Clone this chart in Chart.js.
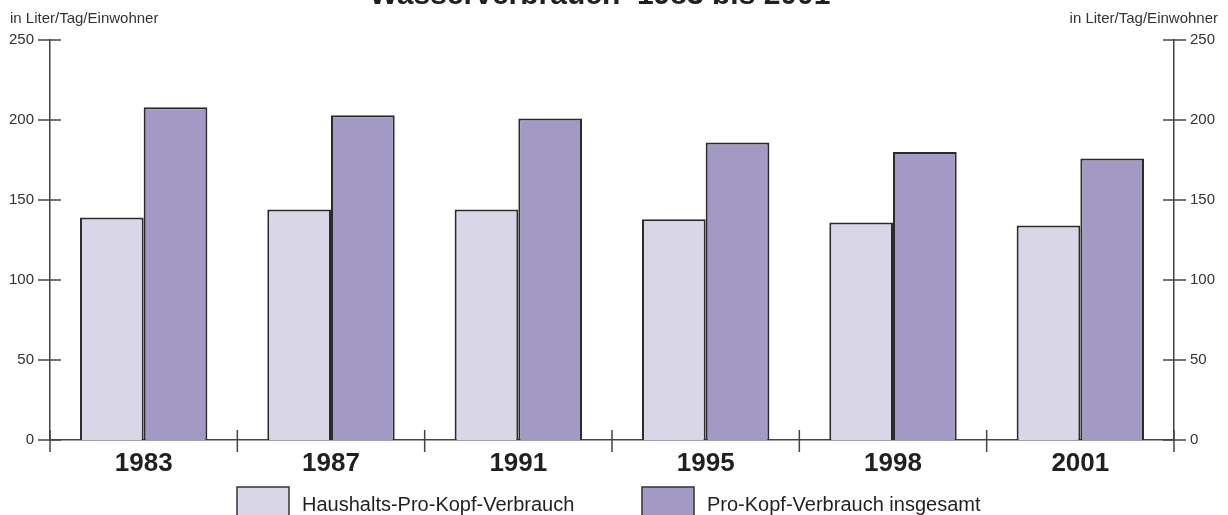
<!DOCTYPE html>
<html>
<head>
<meta charset="utf-8">
<script src="https://cdn.jsdelivr.net/npm/chart.js@4"></script>
<style>
  html, body { margin: 0; padding: 0; background: #fff; overflow: hidden; }
  #wrap { width: 1228px; height: 515px; }
</style>
</head>
<body>
<div id="wrap"><canvas id="wasser-chart" width="1228" height="515"></canvas></div>
<script>
const years = ['1983', '1987', '1991', '1995', '1998', '2001'];
const haushalt = [139, 144, 144, 138, 136, 134];
const gesamt = [208, 203, 201, 186, 180, 176];
const seriesNames = ['Haushalts-Pro-Kopf-Verbrauch', 'Pro-Kopf-Verbrauch insgesamt'];
const yTicks = [0, 50, 100, 150, 200, 250];

const titleText = 'Wasserverbrauch  1983 bis 2001';
const unitText = 'in Liter/Tag/Einwohner';
const FONT = 'Liberation Sans, Arial, Helvetica, sans-serif';
const INK = '#231f20';
const AXIS = '#444';

// Achsenstriche, Titel und Legende selbst zeichnen
const extras = {
    id: 'extras',
    afterDraw(chart) {
        const ctx = chart.ctx;
        const area = chart.chartArea;
        const x = chart.scales.x;
        const yl = chart.scales.y;
        ctx.save();
        ctx.strokeStyle = AXIS;
        ctx.lineWidth = 1.5;
        ctx.beginPath();
        yTicks.forEach(v => {
            const py = yl.getPixelForValue(v);
            ctx.moveTo(area.left - 12, py); ctx.lineTo(area.left + 11, py);
            ctx.moveTo(area.right - 11, py); ctx.lineTo(area.right + 12, py);
        });
        const half = (x.getPixelForValue(1) - x.getPixelForValue(0)) / 2;
        for (let i = 0; i <= years.length; i++) {
            const px = i < years.length ? x.getPixelForValue(i) - half : x.getPixelForValue(i - 1) + half;
            ctx.moveTo(px, area.bottom - 10); ctx.lineTo(px, area.bottom + 12);
        }
        ctx.stroke();

        ctx.fillStyle = INK;
        ctx.font = 'bold 30px ' + FONT;
        ctx.textAlign = 'center';
        ctx.textBaseline = 'alphabetic';
        ctx.fillText(titleText, 600, 4);

        ctx.fillStyle = '#333';
        ctx.font = '15px ' + FONT;
        ctx.textAlign = 'left';
        ctx.fillText(unitText, 10, 23);
        ctx.textAlign = 'right';
        ctx.fillText(unitText, 1218, 23);

        // Legende
        const legendX = [237, 642];
        chart.data.datasets.forEach((ds, i) => {
            ctx.fillStyle = ds.backgroundColor;
            ctx.fillRect(legendX[i], 487, 52, 40);
            ctx.strokeStyle = '#333';
            ctx.lineWidth = 1.5;
            ctx.strokeRect(legendX[i], 487, 52, 40);
            ctx.fillStyle = INK;
            ctx.font = '20px ' + FONT;
            ctx.textAlign = 'left';
            ctx.fillText(ds.label, legendX[i] + 65, 511);
        });
        ctx.restore();
    }
};

const ctx = document.getElementById('wasser-chart').getContext('2d');
new Chart(ctx, {
    type: 'bar',
    data: {
        labels: years,
        datasets: [
            {
                label: seriesNames[0],
                data: haushalt,
                backgroundColor: '#d9d6e8',
                borderColor: '#2b2b2b',
                borderWidth: 2,
            },
            {
                label: seriesNames[1],
                data: gesamt,
                backgroundColor: '#a29ac4',
                borderColor: '#2b2b2b',
                borderWidth: 2,
            },
        ],
    },
    options: {
        responsive: false,
        animation: false,
        events: [],
        categoryPercentage: 0.68,
        barPercentage: 1,
        layout: { padding: { top: 40, bottom: 0, left: 0, right: 0 } },
        plugins: {
            legend: { display: false },
            title: { display: false },
            tooltip: { enabled: false },
        },
        scales: {
            x: {
                grid: { display: false, drawTicks: false },
                border: { display: true, color: AXIS, width: 1.5 },
                ticks: { color: INK, font: { family: FONT, size: 26, weight: 'bold' }, padding: 8 },
                afterFit(s) { s.height = 75; },
            },
            y: {
                position: 'left',
                min: 0, max: 250,
                grid: { display: false, drawTicks: false },
                border: { display: true, color: AXIS, width: 1.5 },
                ticks: { stepSize: 50, color: '#333', font: { family: FONT, size: 15 }, padding: 16 },
                afterFit(s) { s.width = 50; },
            },
            y2: {
                position: 'right',
                min: 0, max: 250,
                grid: { display: false, drawTicks: false },
                border: { display: true, color: AXIS, width: 1.5 },
                ticks: { stepSize: 50, color: '#333', font: { family: FONT, size: 15 }, padding: 16 },
                afterFit(s) { s.width = 54; },
            },
        },
    },
    plugins: [extras],
});
</script>
</body>
</html>
